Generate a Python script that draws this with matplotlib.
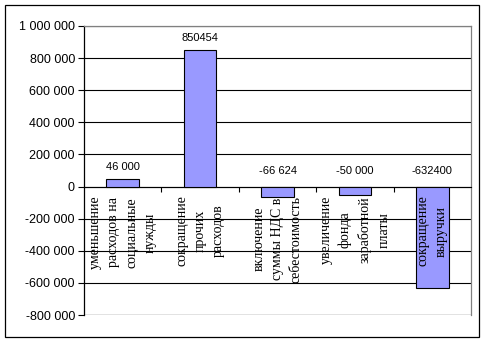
import matplotlib.pyplot as plt
from matplotlib.patches import Rectangle
from matplotlib.ticker import FuncFormatter

categories = [
    "уменьшение\nрасходов на\nсоциальные\nнужды",
    "сокращение\nпрочих\nрасходов",
    "включение\nсуммы НДС в\nсебестоимость",
    "увеличение\nфонда\nзаработной\nплаты",
    "сокращение\nвыручки",
]
values = [46000, 850454, -66624, -50000, -632400]
value_labels = ["46 000", "850454", "-66 624", "-50 000", "-632400"]
y_ticks = [-800000, -600000, -400000, -200000, 0, 200000, 400000, 600000, 800000, 1000000]

W, H = 486, 342
fig = plt.figure(figsize=(W / 100, H / 100), dpi=100)
fig.patch.set_facecolor("white")

# outer chart frame
fig.patches.append(Rectangle((5 / W, 5 / H), 474 / W, 332 / H, transform=fig.transFigure,
                             fill=False, edgecolor="black", linewidth=0.9))

ax = fig.add_axes([84 / W, (H - 315) / H, (471 - 84) / W, (315 - 26) / H])
x = list(range(len(values)))

ax.set_ylim(-800000, 1000000)
ax.set_xlim(-0.5, len(values) - 0.5)
ax.set_yticks(y_ticks)
ax.yaxis.set_major_formatter(FuncFormatter(lambda v, p: f"{v:,.0f}".replace(",", " ").replace("\u2212", "-")))
for t in y_ticks:
    ax.axhline(t, color="black", linewidth=0.8, zorder=1)

ax.bar(x, values, width=0.42, color="#9999ff", edgecolor="black", linewidth=0.8, zorder=3)

# value labels above bars (negatives sit above the zero line)
for i, (v, lab) in enumerate(zip(values, value_labels)):
    if v >= 0:
        ax.annotate(lab, (i, v), xytext=(0, 8.5), textcoords="offset points", ha="center", va="center",
                    fontsize=8, family="Liberation Sans", zorder=4)
    else:
        ax.annotate(lab, (i, 0), xytext=(0, 11.5), textcoords="offset points", ha="center", va="center",
                    fontsize=8, family="Liberation Sans", zorder=4)

# category names written vertically under the zero line
for i, name in enumerate(categories):
    ax.annotate(name, (i, 0), xytext=(0, -6.5), textcoords="offset points", ha="center", va="top",
                rotation=90, multialignment="center", linespacing=1.55,
                fontsize=10, family="Liberation Serif", zorder=5)

for side in ["top", "right"]:
    ax.spines[side].set_color("#808080")
    ax.spines[side].set_linewidth(0.9)
ax.spines["left"].set_color("black")
ax.spines["left"].set_linewidth(0.9)
ax.spines["bottom"].set_position(("data", 0))
ax.spines["bottom"].set_color("black")
ax.spines["bottom"].set_linewidth(0.8)
ax.axhline(-800000, color="#808080", linewidth=0.9, zorder=2)

ax.set_xticks([i + 0.5 for i in range(len(values) - 1)])
ax.set_xticklabels([])
ax.tick_params(axis="x", direction="out", length=3.5, width=0.8, color="black")
ax.tick_params(axis="y", direction="out", length=4.5, width=0.8, color="black", pad=2)
for lab in ax.get_yticklabels():
    lab.set_family("Liberation Sans")
    lab.set_fontsize(9)

fig.savefig("out.png", dpi=100, facecolor="white")
